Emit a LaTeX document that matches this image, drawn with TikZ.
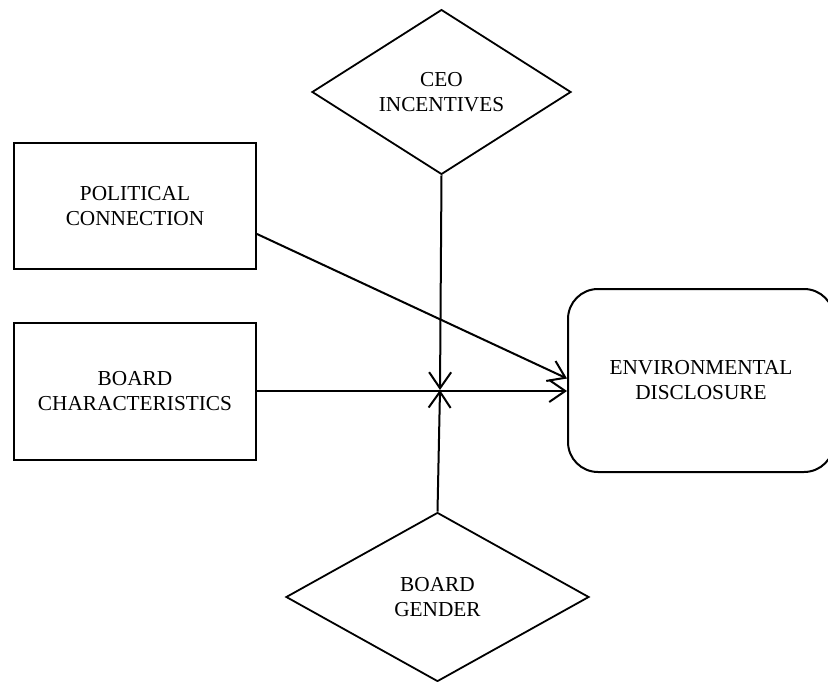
\documentclass[tikz,border=0pt]{standalone}
\usepackage{fontspec}
\setmainfont{Liberation Serif}
\usetikzlibrary{shapes.geometric,arrows.meta}
\begin{document}
\begin{tikzpicture}[x=1pt,y=-1pt,
  every node/.style={font=\fontsize{21.3}{25}\selectfont, align=center, inner sep=0pt},
  box/.style={draw, line width=2pt, rectangle, minimum width=242pt},
  dia/.style={draw, line width=1.8pt, diamond},
  roundbox/.style={draw, line width=2pt, rectangle, rounded corners=30pt},
  conn/.style={line width=2pt, -{Straight Barb[length=16pt,width=22pt,line width=2pt]}}
]
\useasboundingbox (0,0) rectangle (828,682);
\clip (0,0) rectangle (828,682);
\node[dia, minimum width=259pt, minimum height=161pt] (ceo) at (441.5,92) {CEO\\INCENTIVES};
\node[box, minimum height=126pt] (pc) at (135,206) {POLITICAL\\CONNECTION};
\node[box, minimum height=137pt] (bc) at (135,391) {BOARD\\CHARACTERISTICS};
\node[roundbox, minimum width=266pt, minimum height=183pt] (env) at (701,380.5) {ENVIRONMENTAL\\DISCLOSURE};
\node[dia, minimum width=303pt, minimum height=169pt] (gen) at (437.5,597) {BOARD\\GENDER};
\coordinate (meet) at (440,390);
\draw[conn] ([yshift=-28pt]pc.east) -- ([yshift=2pt]env.west);
\draw[conn] (bc.east) -- (bc.east -| env.west);
\draw[conn] (ceo.south) -- (meet);
\draw[conn] (gen.north) -- (meet);
\end{tikzpicture}
\end{document}
